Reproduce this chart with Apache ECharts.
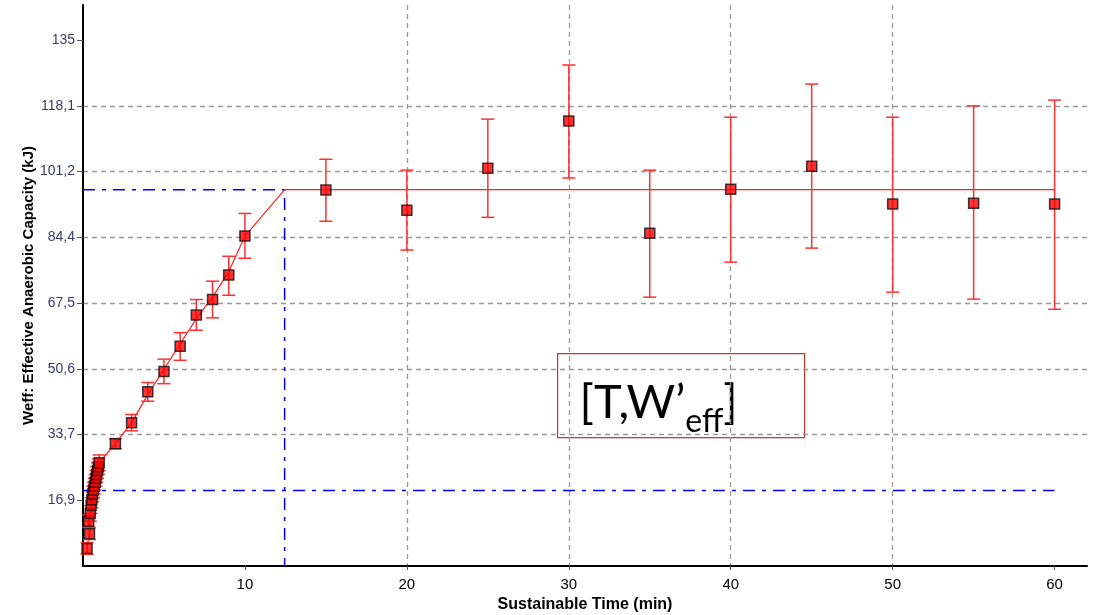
<!DOCTYPE html>
<html>
<head>
<meta charset="utf-8">
<script src="https://cdn.jsdelivr.net/npm/echarts@6/dist/echarts.min.js"></script>
<style>
html,body{margin:0;padding:0;background:#fff;}
#chart{width:1094px;height:615px;}
</style>
</head>
<body>
<div id="chart"></div>
<script>
// ---- data ----
const times   = [0.25, 0.40, 0.35, 0.45, 0.50, 0.55, 0.60, 0.65, 0.70, 0.75, 0.80, 0.85, 0.90, 0.95, 1.00, 2, 3, 4, 5, 6, 7, 8, 9, 10, 15, 20, 25, 30, 35, 40, 45, 50, 55, 60];
const values  = [4.5, 8.3, 11.5, 13.5, 15.5, 17.0, 18.5, 19.5, 20.5, 21.5, 22.5, 23.5, 24.5, 25.5, 26.5, 31.4, 36.8, 44.7, 49.9, 56.4, 64.4, 68.4, 74.7, 84.7, 96.5, 91.3, 102.1, 114.2, 85.4, 96.7, 102.6, 92.9, 93.1, 92.9];
const errLow  = [3.0, 6.8, 10.0, 11.5, 13.5, 15.0, 16.5, 17.5, 18.5, 19.5, 20.5, 21.5, 22.5, 23.5, 24.5, 30.1, 34.7, 42.3, 46.8, 52.8, 60.5, 63.7, 69.5, 79.0, 88.5, 81.1, 89.5, 99.6, 69.0, 78.0, 81.6, 70.3, 68.5, 65.9];
const errHigh = [6.0, 9.8, 13.0, 15.5, 17.5, 19.0, 20.5, 21.5, 22.5, 23.5, 24.5, 25.5, 26.5, 27.5, 28.5, 32.7, 38.9, 47.1, 53.1, 59.9, 68.4, 73.1, 79.5, 90.5, 104.4, 101.6, 114.7, 128.6, 101.6, 115.2, 123.7, 115.2, 118.1, 119.6];

// fitted model line (rising part, breakpoint, plateau)
const fitTime  = [0.25, 0.40, 0.50, 0.70, 1.00, 2, 3, 4, 5, 6, 7, 8, 9, 10, 12.45, 60];
const fitValue = [4.5, 9.0, 15.0, 20.5, 26.5, 31.4, 36.8, 44.0, 50.5, 57.0, 63.5, 69.0, 75.5, 84.7, 96.6, 96.6];

// blue dash-dot reference lines
const refUpperTime  = [0, 12.45, 12.45];
const refUpperValue = [96.6, 96.6, 0];
const refLowerTime  = [0, 60];
const refLowerValue = [19.4, 19.4];

// axis ticks
const xTickValues = [10, 20, 30, 40, 50, 60];
const yTickValues = [16.875, 33.75, 50.625, 67.5, 84.375, 101.25, 118.125, 135];
const yTickLabels = ['16,9', '33,7', '50,6', '67,5', '84,4', '101,2', '118,1', '135'];

const annotationText = ['[T,W’', 'eff', ']'];

// ---- build ----
const pts = times.map((t, i) => [t, values[i]]);
const errs = times.map((t, i) => [t, errLow[i], errHigh[i]]);
const fit = fitTime.map((t, i) => [t, fitValue[i]]);
const refU = refUpperTime.map((t, i) => [t, refUpperValue[i]]);
const refL = refLowerTime.map((t, i) => [t, refLowerValue[i]]);

const chart = echarts.init(document.getElementById('chart'), null, {renderer: 'canvas'});
const gridDash = {color: '#999999', width: 1.3, type: [5, 4]};
const blueDash = {color: '#0000ff', width: 1.5, type: [12, 7, 4, 7]};
const sans = '"Liberation Sans", Arial, sans-serif';

chart.setOption({
  animation: false,
  backgroundColor: '#ffffff',
  grid: {left: 83, right: 7, top: 5, bottom: 49, containLabel: false, outerBoundsMode: 'none'},
  xAxis: {
    type: 'value', min: 0, max: 62, interval: 10,
    axisLine: {show: true, onZero: false, lineStyle: {color: '#000', width: 2}},
    axisTick: {show: true, length: 4, customValues: xTickValues, lineStyle: {color: '#555'}},
    axisLabel: {customValues: xTickValues, margin: 11, color: '#000', fontSize: 15, fontFamily: sans},
    splitLine: {show: true, showMinLine: false, showMaxLine: false, lineStyle: gridDash},
    name: 'Sustainable Time (min)', nameLocation: 'middle', nameGap: 31, nameMoveOverlap: false,
    nameTextStyle: {color: '#000', fontSize: 16, fontWeight: 'bold', fontFamily: sans}
  },
  yAxis: {
    type: 'value', min: 0, max: 144, interval: 16.875,
    axisLine: {show: true, onZero: false, lineStyle: {color: '#000', width: 2}},
    axisTick: {show: true, length: 6, customValues: yTickValues, lineStyle: {color: '#555'}},
    axisLabel: {customValues: yTickValues, margin: 8, color: '#3a3a66', fontSize: 14, fontFamily: sans,
      formatter: function (v) {
        for (let i = 0; i < yTickValues.length; i++) {
          if (Math.abs(v - yTickValues[i]) < 1e-6) return yTickLabels[i];
        }
        return '';
      }},
    splitLine: {show: true, showMinLine: false, showMaxLine: false, lineStyle: gridDash},
    name: 'Weff: Effective Anaerobic Capacity (kJ)', nameLocation: 'middle', nameGap: 47, nameMoveOverlap: false,
    nameTextStyle: {color: '#000', fontSize: 15, fontWeight: 'bold', fontFamily: sans}
  },
  series: [
    {type: 'line', data: refU, showSymbol: false, lineStyle: blueDash, z: 2, silent: true},
    {type: 'line', data: refL, showSymbol: false, lineStyle: blueDash, z: 2, silent: true},
    {type: 'line', data: fit, showSymbol: false, lineStyle: {color: '#ff2020', width: 1.2}, z: 3, silent: true},
    {
      type: 'custom', data: errs, z: 4, silent: true,
      encode: {x: 0, y: [1, 2]},
      renderItem: function (params, api) {
        const t = api.value(0);
        const lo = api.coord([t, api.value(1)]);
        const hi = api.coord([t, api.value(2)]);
        const hw = 6.5;
        const style = {stroke: '#ff3030', lineWidth: 1.5};
        return {
          type: 'group',
          children: [
            {type: 'line', shape: {x1: lo[0], y1: lo[1], x2: hi[0], y2: hi[1]}, style: style},
            {type: 'line', shape: {x1: lo[0] - hw, y1: lo[1], x2: lo[0] + hw, y2: lo[1]}, style: style},
            {type: 'line', shape: {x1: hi[0] - hw, y1: hi[1], x2: hi[0] + hw, y2: hi[1]}, style: style}
          ]
        };
      }
    },
    {type: 'scatter', data: pts, symbol: 'rect', symbolSize: 10, z: 5,
      itemStyle: {color: '#ff0000', borderColor: '#111', borderWidth: 1.5}}
  ],
  graphic: [
    {
      type: 'group', left: 557, top: 353,
      children: [
        {type: 'rect', shape: {x: 0, y: 0, width: 247, height: 84},
          style: {fill: '#ffffff', stroke: '#c0392b', lineWidth: 1.2}},
        {type: 'text', x: 22, y: 14,
          style: {
            text: '{a|' + annotationText[0] + '}{b|' + annotationText[1] + '}{a|' + annotationText[2] + '}',
            rich: {
              a: {fontSize: 47, fontFamily: 'Lato, "Open Sans", sans-serif', color: '#000', lineHeight: 70, verticalAlign: 'middle'},
              b: {fontSize: 32, fontFamily: 'Lato, "Open Sans", sans-serif', color: '#000', lineHeight: 32, verticalAlign: 'bottom'}
            }
          }}
      ]
    }
  ]
});
</script>
</body>
</html>
